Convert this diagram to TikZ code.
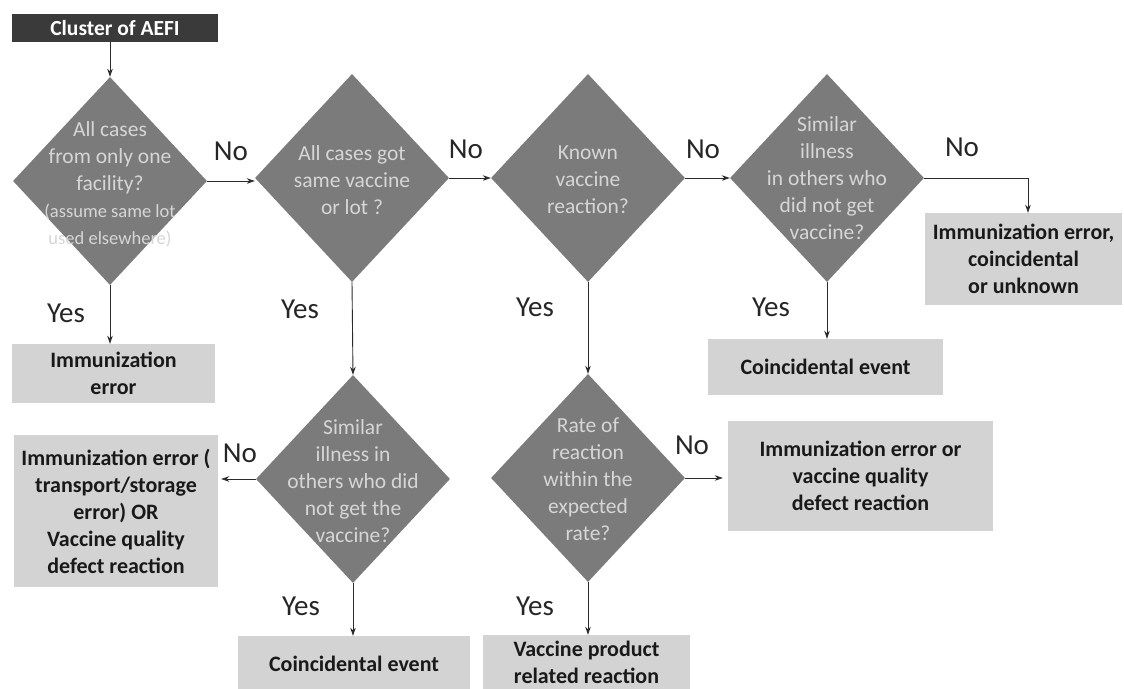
\documentclass[tikz,border=0pt]{standalone}
\usepackage{fontspec}
\setmainfont{Carlito}
\usetikzlibrary{shapes.geometric,arrows.meta}
\definecolor{dgrey}{HTML}{7B7B7B}
\definecolor{dtxt}{HTML}{D6D6D6}
\definecolor{boxgrey}{HTML}{D3D3D3}
\definecolor{titlegrey}{HTML}{3A3A3A}
\definecolor{linec}{HTML}{2B2B2B}
\begin{document}
\begin{tikzpicture}[x=1pt,y=-1pt,
  dia/.style={diamond, fill=dgrey, minimum width=194pt, minimum height=208pt, inner sep=0pt},
  dtext/.style={text=dtxt, align=center, font=\fontsize{21.5}{27}\selectfont, inner sep=0pt},
  res/.style={fill=boxgrey, align=center, font=\bfseries\fontsize{22}{27}\selectfont, inner sep=0pt, text=black!90},
  lbl/.style={font=\fontsize{29}{30}\selectfont, text=black!85, inner sep=0pt},
  arr/.style={-{Stealth[length=8pt,width=5.5pt]}, draw=linec, line width=0.9pt}]
\useasboundingbox (0,0) rectangle (1124,688);
\fill[white] (0,0) rectangle (1124,688);

% title
\node[fill=titlegrey, text=white, font=\bfseries\fontsize{21.5}{24}\selectfont, minimum width=206pt, minimum height=28pt, inner sep=0pt] (t) at (115,28) {Cluster of AEFI};

% diamonds
\node[dia] (d1) at (110,181) {};
\node[dia] (d2) at (352,178) {};
\node[dia] (d3) at (588,178) {};
\node[dia] (d4) at (827,178) {};
\node[dia] (d5) at (353,479) {};
\node[dia] (d6) at (588,478) {};

\node[dtext] (d1t) at (110,184) {All cases\\from only one\\facility?\\{\fontsize{18.5}{27}\selectfont (assume same lot}\\{\fontsize{18.5}{27}\selectfont used elsewhere)}};
\node[dtext] (d2t) at (352,180) {All cases got\\same vaccine\\or lot ?};
\node[dtext] (d3t) at (588,180) {Known\\vaccine\\reaction?};
\node[dtext] (d4t) at (827,178) {Similar\\illness\\in others who\\did not get\\vaccine?};
\node[dtext] (d5t) at (353,481) {Similar\\illness in\\others who did\\not get the\\vaccine?};
\node[dtext] (d6t) at (588,479) {Rate of\\reaction\\within the\\expected\\rate?};

% result boxes
\node[res, minimum width=203pt, minimum height=59pt] (r1) at (113.5,373.5) {Immunization\\error};
\node[res, minimum width=204pt, minimum height=152pt] (r2) at (116,511) {Immunization error (\\transport/storage\\error) OR\\Vaccine quality\\defect reaction};
\node[res, minimum width=232pt, minimum height=56pt] (r3) at (354,664) {Coincidental event};
\node[res, minimum width=207pt, minimum height=59pt] (r4) at (586.5,664.5) {};
\node[res] (r4t) at (586.5,662) {Vaccine product\\related reaction};
\node[res, minimum width=265pt, minimum height=110pt] (r5) at (860.5,476) {Immunization error or\\vaccine quality\\defect reaction};
\node[res, minimum width=235pt, minimum height=56pt] (r6) at (825.5,367) {Coincidental event};
\node[res, minimum width=197pt, minimum height=92pt] (r7) at (1023.5,259) {Immunization error,\\coincidental\\or unknown};

% connectors
\draw[arr] (d1.north |- t.south) -- (d1.north);
\draw[arr] (d1.east) -- (d1.east -| d2.west);
\draw[arr] (d2.east) -- (d3.west);
\draw[arr] (d3.east) -- (d4.west);
\coordinate (c7) at ([xshift=4.5pt]r7.north);
\draw[arr] (d4.east) -| (c7);
\draw[arr] (d1.south) -- (d1.south |- r1.north);
\draw[arr] (d2.south) -- (d5.north);
\draw[arr] (d3.south) -- (d6.north);
\draw[arr] (d4.south) -- (d4.south |- r6.north);
\draw[arr, shorten >=3pt] (d5.west) -- (d5.west -| r2.east);
\draw[arr] (d5.south) -- (d5.south |- r3.north);
\draw[arr, shorten >=5pt] (d6.east) -- (d6.east -| r5.west);
\draw[arr] (d6.south) -- (d6.south |- r4.north);

% labels
\node[lbl] (n1) at (231,151) {No};
\node[lbl] (n2) at (466,149) {No};
\node[lbl] (n3) at (703,149) {No};
\node[lbl] (n4) at (962,147) {No};
\node[lbl] (n5) at (240,453) {No};
\node[lbl] (n6) at (692,445) {No};
\node[lbl] (y1) at (66,313) {Yes};
\node[lbl] (y2) at (300,309) {Yes};
\node[lbl] (y3) at (535,307) {Yes};
\node[lbl] (y4) at (771,307) {Yes};
\node[lbl] (y5) at (301,606) {Yes};
\node[lbl] (y6) at (535,606) {Yes};
\end{tikzpicture}
\end{document}
